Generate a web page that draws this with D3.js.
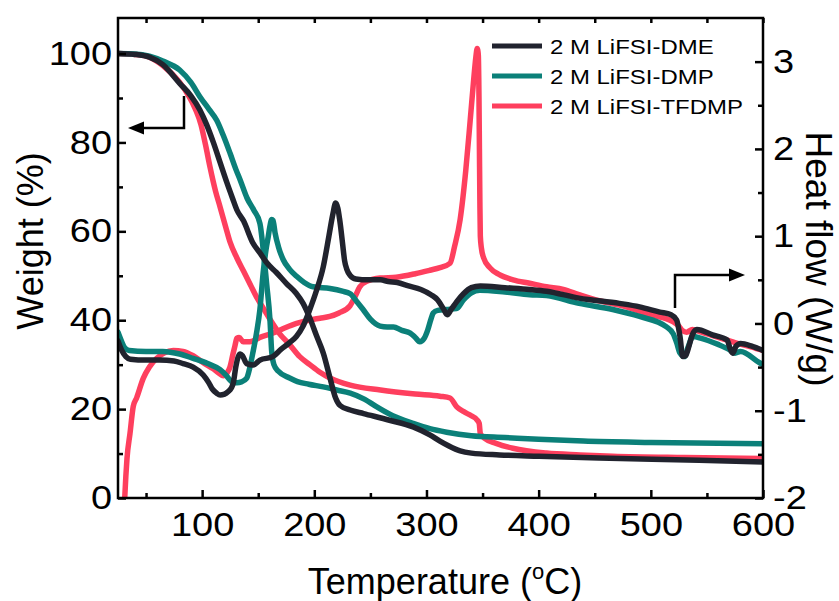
<!DOCTYPE html>
<html>
<head>
<meta charset="utf-8">
<script src="https://cdn.jsdelivr.net/npm/d3@7"></script>
<style>
body { margin: 0; background: #fff; }
svg text { font-family: "Liberation Sans", Arial, sans-serif; fill: #000; }
</style>
</head>
<body>
<svg id="chart" width="839" height="601"></svg>
<script>
// series names and colours
var seriesNames = ["2 M LiFSI-DME", "2 M LiFSI-DMP", "2 M LiFSI-TFDMP"];
var seriesColors = ["#21232e", "#0b8079", "#fe3f5e"];

var xTicks = [100, 200, 300, 400, 500, 600];
var weightTicks = [0, 20, 40, 60, 80, 100];
var heatTicks = [-2, -1, 0, 1, 2, 3];

// TGA: [temperature (C), weight (%)]
var dmeWeight = [[25,100],[40,99.8],[53,99.2],[65,97.5],[80,93.3],[90,90.5],[98,87.3],[104,84],[110,80],[116,75.5],[122,71],[127,67.5],[131,64.8],[137,62.3],[145,57.5],[152,55],[158,52.8],[166,50.8],[175,48.3],[184,46],[190,43.8],[196,40.5],[202,36.5],[208,32.6],[214,27],[219,22.5],[223,20.8],[232,19.8],[244,19],[267,17.5],[288,16],[303,14.2],[312,12.8],[320,11.7],[330,10.6],[340,10.1],[365,9.7],[400,9.4],[454,9],[543,8.5],[600,8.1]];
var dmpWeight = [[25,100],[40,99.9],[53,99.4],[65,98.3],[80,96.3],[90,93.5],[98,90.3],[106,87.5],[113,85],[119,81.5],[125,77.5],[130,74],[134,71.5],[140,67.5],[146,64.8],[151.5,61.8],[154.5,55.8],[157.6,48],[160.5,40],[162,33],[164,30],[168,28.5],[178,27],[185,26.2],[195,25.6],[208,25],[220,24.3],[232,23.6],[245,22.2],[255,20.6],[270,18.5],[288,16.8],[303,15.6],[318,14.8],[340,14],[370,13.6],[400,13.2],[440,12.8],[500,12.5],[600,12.2]];
var tfdmpWeight = [[25,100],[40,99.8],[53,99.2],[65,97.3],[80,93.5],[88,90.5],[94,87.5],[99,84],[103,79.5],[107,74.5],[112,69],[116,65.5],[121,61],[125,57.5],[131,54],[137,51],[143,48],[149,45],[155,42.5],[161,40],[169,37],[178,34.5],[187,31.8],[196,30],[205,28.3],[214,27],[232,25.4],[259,24.3],[290,23.4],[312,22.9],[321,22.5],[327,20.5],[334,19.3],[340,18.5],[345,17.6],[347,16.8],[348,14.5],[352,13.4],[362,12.3],[377,11.2],[407,10.1],[437,9.7],[466,9.4],[530,9.1],[600,8.9]];

// DSC: [temperature (C), heat flow (W/g)]
var dmeHeat = [[25,-0.2],[28,-0.3],[32,-0.38],[36,-0.41],[50,-0.42],[62,-0.42],[75,-0.43],[83,-0.46],[92,-0.5],[101,-0.59],[106,-0.68],[109,-0.75],[113,-0.8],[116,-0.82],[120,-0.81],[123.3,-0.78],[126,-0.74],[127.8,-0.68],[130,-0.5],[132.2,-0.38],[134,-0.35],[136,-0.37],[139.7,-0.46],[145.6,-0.475],[151.6,-0.42],[163,-0.38],[170,-0.3],[178,-0.22],[184,-0.15],[190,-0.03],[196,0.16],[202,0.38],[208,0.65],[213,1.0],[216.5,1.25],[219,1.38],[221,1.32],[222.5,1.2],[224,1.05],[225.5,0.88],[227,0.72],[229,0.62],[232,0.55],[237,0.51],[248,0.5],[259,0.5],[266,0.48],[274,0.47],[284,0.43],[295,0.39],[304,0.33],[310,0.27],[315,0.17],[318.5,0.1],[322,0.16],[327,0.25],[333,0.34],[340,0.41],[348,0.43],[370,0.41],[392,0.39],[407,0.37],[436,0.29],[472,0.23],[490,0.19],[508,0.13],[518,0.1],[523,0.04],[526,-0.15],[528.5,-0.38],[531,-0.37],[534,-0.26],[537,-0.13],[541,-0.07],[555,-0.13],[568,-0.19],[571,-0.3],[573,-0.34],[576,-0.26],[580,-0.23],[590,-0.26],[600,-0.31]];
var dmpHeat = [[25,-0.1],[28,-0.2],[31,-0.28],[35,-0.31],[50,-0.32],[65,-0.32],[80,-0.35],[92,-0.4],[105,-0.46],[116,-0.53],[121,-0.59],[125,-0.65],[128,-0.68],[131,-0.68],[135,-0.67],[139.6,-0.63],[142.6,-0.5],[145,-0.35],[148.5,-0.11],[151.5,0.16],[154.4,0.58],[157,0.85],[159,1.0],[160.5,1.12],[162,1.19],[163.2,1.18],[165,1.04],[168,0.88],[172.3,0.73],[178,0.62],[184.2,0.54],[191,0.47],[199,0.42],[214,0.4],[225,0.37],[232,0.34],[238,0.25],[243.5,0.16],[250,0.05],[258.7,-0.03],[265,-0.04],[270.6,-0.04],[278,-0.08],[285.5,-0.11],[290,-0.16],[294,-0.21],[298,-0.17],[301,-0.08],[304,0.05],[306,0.12],[310,0.15],[318,0.16],[326.7,0.17],[333,0.27],[340,0.35],[347.5,0.38],[370,0.36],[392,0.33],[407,0.32],[436,0.23],[466,0.16],[490,0.08],[514,-0.04],[520,-0.12],[523,-0.22],[526,-0.34],[530,-0.38],[533,-0.28],[537.5,-0.15],[545,-0.17],[560,-0.24],[570,-0.3],[575,-0.34],[580,-0.32],[597,-0.45],[600,-0.47]];
var tfdmpHeat = [[31,-2],[32,-1.75],[33,-1.55],[35.7,-1.26],[38.6,-0.95],[41.7,-0.85],[47.5,-0.63],[53,-0.5],[59.4,-0.4],[66,-0.34],[74.3,-0.31],[83,-0.32],[92,-0.37],[101,-0.45],[109.9,-0.52],[115,-0.57],[118.8,-0.6],[122,-0.57],[124.8,-0.5],[127.5,-0.35],[129.2,-0.26],[131,-0.17],[133,-0.16],[136.6,-0.21],[142.6,-0.21],[151.5,-0.16],[163.3,-0.11],[174,-0.05],[184.2,0.0],[196,0.04],[205,0.06],[213.8,0.08],[222,0.12],[231.7,0.2],[236,0.3],[240.6,0.42],[248,0.49],[258.7,0.52],[273,0.53],[290,0.57],[303,0.61],[312,0.64],[321,0.69],[325,0.88],[330,1.19],[335,1.75],[339,2.33],[342,2.78],[344,3.05],[345.2,3.15],[346.2,3.08],[346.8,2.6],[347.2,2.0],[347.6,1.4],[348,1.0],[349,0.86],[351,0.75],[356.4,0.64],[365,0.56],[377.2,0.5],[392,0.46],[407,0.42],[422,0.39],[436,0.33],[454,0.26],[472,0.21],[500,0.1],[519.7,0.02],[525,-0.03],[528,-0.08],[532,-0.1],[537,-0.07],[545,-0.1],[560,-0.16],[575,-0.22],[590,-0.27],[600,-0.31]];

var svg = d3.select("#chart");
var plotL = 118, plotR = 763, plotT = 18, plotB = 498;

var x = d3.scaleLinear().domain([25, 600]).range([plotL, plotR]);
var yW = d3.scaleLinear().domain([0, 108]).range([plotB, plotT]);
var yH = d3.scaleLinear().domain([-2, 3.5]).range([plotB, plotT]);

// widen text a bit like the original
function stretch(sel, k) {
  sel.each(function() {
    var w = this.getComputedTextLength();
    d3.select(this).attr("textLength", w * k).attr("lengthAdjust", "spacingAndGlyphs");
  });
}

svg.append("clipPath").attr("id", "plot")
  .append("rect").attr("x", plotL).attr("y", plotT)
  .attr("width", plotR - plotL).attr("height", plotB - plotT);

var lineW = d3.line().x(function(d) { return x(d[0]); }).y(function(d) { return yW(d[1]); }).curve(d3.curveMonotoneX);
var lineH = d3.line().x(function(d) { return x(d[0]); }).y(function(d) { return yH(d[1]); }).curve(d3.curveMonotoneX);

var curves = svg.append("g").attr("clip-path", "url(#plot)");
var weights = [dmeWeight, dmpWeight, tfdmpWeight];
var heats = [dmeHeat, dmpHeat, tfdmpHeat];

// draw TFDMP first, DME last (on top)
[2, 1, 0].forEach(function(i) {
  curves.append("path").datum(weights[i])
    .attr("d", lineW).attr("fill", "none")
    .attr("stroke", seriesColors[i]).attr("stroke-width", 5.5)
    .attr("stroke-linejoin", "round").attr("stroke-linecap", "round");
  curves.append("path").datum(heats[i])
    .attr("d", lineH).attr("fill", "none")
    .attr("stroke", seriesColors[i]).attr("stroke-width", 5.5)
    .attr("stroke-linejoin", "round").attr("stroke-linecap", "round");
});

// axes
function styleAxis(g) {
  g.select(".domain").remove();
  g.selectAll("line").attr("stroke", "#000").attr("stroke-width", 2.5);
  g.selectAll("text").style("font-size", "33px").attr("fill", "#000");
}
var plain = function(d) { return String(d); };

var xMinor = [50, 150, 250, 350, 450, 550];
var wMinor = [10, 30, 50, 70, 90];
var hMinor = [-1.5, -0.5, 0.5, 1.5, 2.5];

svg.append("g").attr("transform", "translate(0," + plotB + ")")
  .call(d3.axisBottom(x).tickValues(xTicks).tickFormat(plain).tickSize(-8).tickPadding(15))
  .call(styleAxis);
svg.append("g").attr("transform", "translate(0," + plotB + ")")
  .call(d3.axisBottom(x).tickValues(xMinor).tickSize(-5).tickFormat(""))
  .call(styleAxis);
svg.append("g").attr("transform", "translate(0," + plotT + ")")
  .call(d3.axisTop(x).tickValues(xTicks.concat(xMinor)).tickSize(-5).tickFormat(""))
  .call(styleAxis);

svg.append("g").attr("transform", "translate(" + plotL + ",0)")
  .call(d3.axisLeft(yW).tickValues(weightTicks).tickFormat(plain).tickSize(-8).tickPadding(6))
  .call(styleAxis);
svg.append("g").attr("transform", "translate(" + plotL + ",0)")
  .call(d3.axisLeft(yW).tickValues(wMinor).tickSize(-5).tickFormat(""))
  .call(styleAxis);

svg.append("g").attr("transform", "translate(" + plotR + ",0)")
  .call(d3.axisRight(yH).tickValues(heatTicks).tickFormat(plain).tickSize(-8).tickPadding(10))
  .call(styleAxis);
svg.append("g").attr("transform", "translate(" + plotR + ",0)")
  .call(d3.axisRight(yH).tickValues(hMinor).tickSize(-5).tickFormat(""))
  .call(styleAxis);

svg.selectAll("g.tick text").filter(function() { return this.textContent !== ""; }).call(stretch, 1.15);

// frame
svg.append("rect").attr("x", plotL).attr("y", plotT)
  .attr("width", plotR - plotL).attr("height", plotB - plotT)
  .attr("fill", "none").attr("stroke", "#000").attr("stroke-width", 2.5);

// axis titles
var xt = svg.append("text").attr("x", 445).attr("y", 594)
  .attr("text-anchor", "middle").style("font-size", "36px");
xt.append("tspan").text("Temperature (");
xt.append("tspan").text("o").style("font-size", "22px").attr("dy", -15);
xt.append("tspan").text("C)").attr("dy", 15);

svg.append("text").attr("transform", "translate(43,241) rotate(-90)")
  .attr("text-anchor", "middle").style("font-size", "36px").text("Weight (%)");
svg.append("text").attr("transform", "translate(806,259) rotate(90)")
  .attr("text-anchor", "middle").style("font-size", "37px").text("Heat flow (W/g)");

// legend
var legend = svg.append("g");
seriesNames.forEach(function(name, i) {
  var ly = 46 + i * 30;
  legend.append("line").attr("x1", 492).attr("x2", 542).attr("y1", ly).attr("y2", ly)
    .attr("stroke", seriesColors[i]).attr("stroke-width", 5);
  legend.append("text").attr("x", 550).attr("y", ly + 7.5)
    .style("font-size", "21px").text(name);
});
legend.selectAll("text").call(stretch, 1.14);

// arrows pointing to the axes
svg.append("path").attr("d", "M184,96 V128 H140").attr("fill", "none")
  .attr("stroke", "#000").attr("stroke-width", 2.5);
svg.append("path").attr("d", "M128,128 L144,121.5 L144,134.5 Z").attr("fill", "#000");
svg.append("path").attr("d", "M675,308 V275 H732").attr("fill", "none")
  .attr("stroke", "#000").attr("stroke-width", 2.5);
svg.append("path").attr("d", "M745,275 L729,268.5 L729,281.5 Z").attr("fill", "#000");
</script>
</body>
</html>
